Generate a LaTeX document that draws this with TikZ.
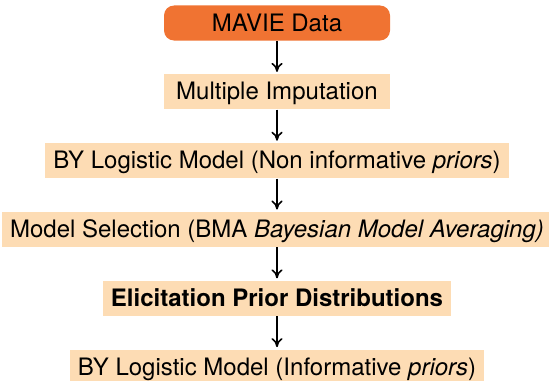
\documentclass[tikz,border=0pt]{standalone}
\usepackage{fontspec}
\setmainfont{TeX Gyre Heros}
\usetikzlibrary{arrows.meta, positioning}
\definecolor{mavieorange}{RGB}{240,115,50}
\definecolor{stepfill}{RGB}{253,220,180}

\begin{document}
\begin{tikzpicture}[node distance=16.5pt, font=\fontsize{12}{14}\selectfont,
	box/.style={fill=stepfill, inner xsep=4pt, minimum height=17.5pt, text height=0.8em, text depth=0em},
	arr/.style={-{To[length=4.5pt,width=5.5pt]}, thick, shorten >=1pt}]
		
		\path[use as bounding box] (-138.5pt,11.5pt) rectangle (136pt,-178.5pt);
		
		% Nodes
		\node[box, fill=mavieorange, rounded corners=5pt, minimum width=113pt] (data) {MAVIE Data};
		
		\node[box, minimum width=113pt, below=of data] (imput) {Multiple Imputation};
		
		\node[box, below=of imput] (noninf) {BY Logistic Model (Non informative \textit{priors})};
		
		\node[box, below=of noninf] (bma) {Model Selection (BMA \textit{Bayesian Model Averaging)}};
		
		\node[box, below=of bma] (elicit) {\textbf{Elicitation Prior Distributions}};
		
		\node[box, below=of elicit] (inf) {BY Logistic Model (Informative \textit{priors})};
		
		% Arrows
		\draw[arr] (data) -- (imput);
		\draw[arr] (imput) -- (noninf);
		\draw[arr] (noninf) -- (bma);
		\draw[arr] (bma) -- (elicit);
		\draw[arr] (elicit) -- (inf);
		
\end{tikzpicture}
\end{document}
